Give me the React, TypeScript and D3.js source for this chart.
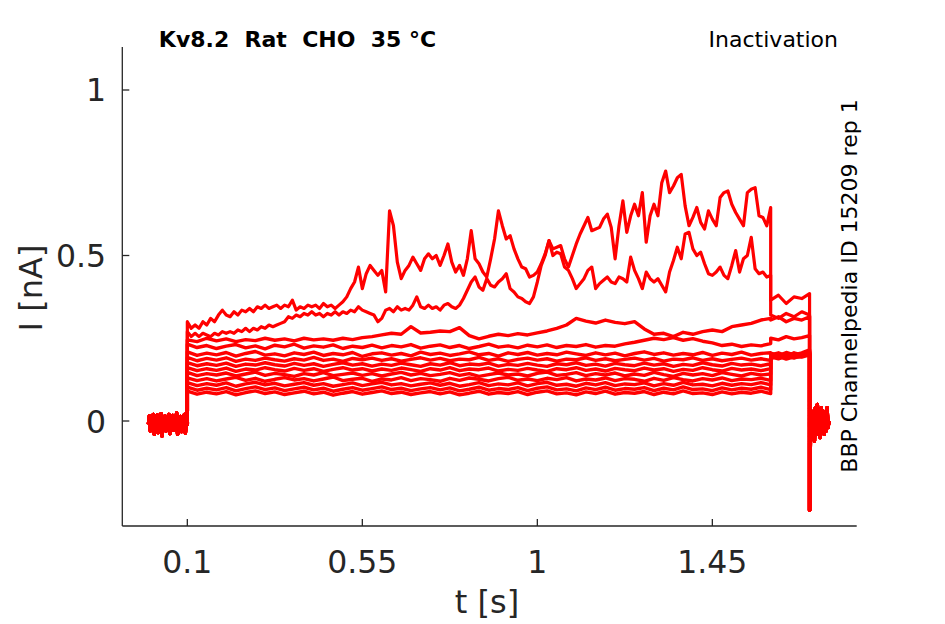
import React from 'react';
import * as d3 from 'd3';

// ---- protocol timing (s) ----
const tHold = 0;
const tPre = 0.1;
const tTest = 1.6;
const tTail = 1.7;
const holdStep = 0.0025;
const bigStep = 0.01;
const flatStep = 0.025;
const testStep = 0.02;
const tailStep = 0.0025;

// ---- axis ticks ----
const xTicks = [0.1, 0.55, 1, 1.45];
const xTickLabels = ['0.1', '0.55', '1', '1.45'];
const yTicks = [0, 0.5, 1];
const yTickLabels = ['0', '0.5', '1'];

// ---- holding and tail currents (nA), shared by all sweeps ----
const holdingCurrent = [-0.01, 0.015, -0.03, 0.005, -0.02, 0.02, -0.04, 0.0, -0.015, 0.018, -0.035, 0.01, -0.025, 0.022, -0.045, 0.005, -0.01, 0.015, -0.03, 0.012, -0.02, 0.02, -0.038, 0.0, -0.015, 0.017, -0.028, 0.01, -0.022, 0.024, -0.04, 0.006, -0.012, 0.014, -0.032, 0.01, -0.018, 0.02, -0.036, 0.004, -0.01];
const tailCurrent = [-0.27, -0.02, 0.03, -0.05, 0.02, -0.06, 0.04, -0.03, 0.05, -0.04, 0.01, -0.05, 0.04, -0.02, 0.03, -0.04, 0.02, -0.03, 0.04, -0.02, 0.0];

// ---- prepulse currents (nA) ----
const sweep1Pre = [0.30, 0.28, 0.29, 0.28, 0.30, 0.29, 0.31, 0.30, 0.32, 0.335, 0.32, 0.315, 0.33, 0.32, 0.335, 0.33, 0.34, 0.33, 0.345, 0.34, 0.35, 0.34, 0.345, 0.35, 0.34, 0.35, 0.345, 0.365, 0.335, 0.345, 0.34, 0.35, 0.345, 0.35, 0.34, 0.355, 0.345, 0.35, 0.34, 0.35, 0.36, 0.375, 0.40, 0.42, 0.465, 0.40, 0.445, 0.47, 0.455, 0.44, 0.455, 0.39, 0.635, 0.59, 0.48, 0.43, 0.455, 0.47, 0.495, 0.475, 0.455, 0.49, 0.505, 0.49, 0.50, 0.47, 0.50, 0.535, 0.48, 0.45, 0.47, 0.44, 0.49, 0.575, 0.49, 0.475, 0.45, 0.435, 0.49, 0.55, 0.635, 0.59, 0.55, 0.56, 0.52, 0.49, 0.465, 0.46, 0.435, 0.44, 0.45, 0.475, 0.505, 0.545, 0.52, 0.525, 0.53, 0.49, 0.465, 0.50, 0.535, 0.565, 0.59, 0.615, 0.575, 0.58, 0.585, 0.61, 0.625, 0.585, 0.49, 0.59, 0.665, 0.57, 0.62, 0.655, 0.62, 0.69, 0.54, 0.62, 0.655, 0.62, 0.72, 0.755, 0.69, 0.71, 0.735, 0.745, 0.65, 0.59, 0.615, 0.645, 0.60, 0.58, 0.635, 0.61, 0.59, 0.675, 0.69, 0.695, 0.655, 0.63, 0.61, 0.59, 0.69, 0.70, 0.705, 0.62, 0.615, 0.59, 0.645];
const sweep2Pre = [0.27, 0.255, 0.265, 0.255, 0.265, 0.26, 0.255, 0.265, 0.26, 0.27, 0.265, 0.27, 0.265, 0.275, 0.27, 0.28, 0.27, 0.28, 0.275, 0.285, 0.28, 0.29, 0.285, 0.29, 0.295, 0.30, 0.315, 0.31, 0.32, 0.315, 0.325, 0.32, 0.33, 0.32, 0.325, 0.315, 0.325, 0.32, 0.33, 0.32, 0.33, 0.325, 0.335, 0.33, 0.345, 0.335, 0.33, 0.325, 0.32, 0.30, 0.31, 0.335, 0.34, 0.33, 0.345, 0.335, 0.34, 0.335, 0.35, 0.375, 0.345, 0.34, 0.35, 0.34, 0.345, 0.335, 0.35, 0.355, 0.345, 0.34, 0.35, 0.37, 0.395, 0.42, 0.435, 0.405, 0.395, 0.43, 0.41, 0.405, 0.42, 0.43, 0.445, 0.40, 0.39, 0.375, 0.37, 0.36, 0.355, 0.375, 0.42, 0.47, 0.50, 0.545, 0.50, 0.51, 0.505, 0.465, 0.455, 0.43, 0.40, 0.415, 0.43, 0.455, 0.465, 0.40, 0.415, 0.425, 0.435, 0.42, 0.415, 0.435, 0.43, 0.42, 0.495, 0.455, 0.43, 0.40, 0.45, 0.43, 0.42, 0.43, 0.41, 0.39, 0.45, 0.485, 0.525, 0.49, 0.565, 0.57, 0.52, 0.50, 0.51, 0.475, 0.445, 0.44, 0.45, 0.465, 0.44, 0.43, 0.47, 0.515, 0.45, 0.49, 0.50, 0.555, 0.46, 0.445, 0.45, 0.435, 0.44];
const sweep3Pre = [0.245, 0.24, 0.25, 0.242, 0.248, 0.24, 0.246, 0.243, 0.25, 0.244, 0.248, 0.242, 0.25, 0.245, 0.248, 0.244, 0.25, 0.246, 0.252, 0.255, 0.26, 0.265, 0.262, 0.285, 0.266, 0.268, 0.272, 0.27, 0.282, 0.258, 0.248, 0.256, 0.262, 0.258, 0.264, 0.26, 0.266, 0.272, 0.28, 0.29, 0.31, 0.302, 0.296, 0.305, 0.298, 0.294, 0.30, 0.278, 0.262, 0.265, 0.255, 0.268, 0.262, 0.27, 0.275, 0.27, 0.285, 0.29, 0.295, 0.305, 0.31];
const sweep4Pre = [0.232, 0.222, 0.228, 0.219, 0.226, 0.231, 0.221, 0.227, 0.218, 0.229, 0.224, 0.232, 0.22, 0.227, 0.223, 0.23, 0.219, 0.226, 0.222, 0.229, 0.221, 0.228, 0.224, 0.231, 0.22, 0.226, 0.23, 0.222, 0.228, 0.219, 0.225, 0.232, 0.223, 0.227, 0.221, 0.229, 0.224, 0.23, 0.222, 0.228, 0.225, 0.231, 0.223, 0.228, 0.226, 0.233, 0.238, 0.244, 0.25, 0.246, 0.252, 0.244, 0.249, 0.241, 0.236, 0.228, 0.232, 0.225, 0.23, 0.227, 0.234];
const sweep5Pre = [0.209, 0.198, 0.205, 0.2, 0.207, 0.196, 0.204, 0.21, 0.199, 0.203, 0.197, 0.206, 0.201, 0.208, 0.198, 0.204, 0.2, 0.207, 0.195, 0.203, 0.206, 0.199, 0.204, 0.197, 0.208, 0.201, 0.205, 0.198, 0.203, 0.209, 0.2, 0.204, 0.196, 0.206, 0.201, 0.207, 0.199, 0.204, 0.2, 0.208, 0.203, 0.198, 0.206, 0.2, 0.205, 0.197, 0.204, 0.209, 0.201, 0.206, 0.199, 0.204, 0.2, 0.207, 0.198, 0.205, 0.201, 0.208, 0.199, 0.204, 0.206];
const sweep6Pre = [0.192, 0.182, 0.189, 0.184, 0.191, 0.18, 0.187, 0.183, 0.19, 0.185, 0.181, 0.188, 0.184, 0.192, 0.183, 0.187, 0.18, 0.189, 0.185, 0.19, 0.183, 0.188, 0.181, 0.186, 0.191, 0.184, 0.189, 0.182, 0.187, 0.185, 0.192, 0.183, 0.188, 0.18, 0.186, 0.19, 0.184, 0.188, 0.181, 0.187, 0.185, 0.191, 0.183, 0.188, 0.182, 0.186, 0.19, 0.184, 0.189, 0.181, 0.187, 0.185, 0.191, 0.183, 0.188, 0.182, 0.186, 0.19, 0.184, 0.188, 0.183];
const sweep7Pre = [0.176, 0.167, 0.173, 0.168, 0.175, 0.165, 0.172, 0.169, 0.176, 0.17, 0.166, 0.174, 0.168, 0.173, 0.165, 0.171, 0.176, 0.169, 0.173, 0.166, 0.172, 0.168, 0.175, 0.17, 0.165, 0.173, 0.169, 0.176, 0.167, 0.172, 0.17, 0.175, 0.166, 0.171, 0.168, 0.174, 0.169, 0.165, 0.173, 0.17, 0.176, 0.168, 0.172, 0.166, 0.174, 0.17, 0.167, 0.175, 0.169, 0.173, 0.165, 0.171, 0.168, 0.176, 0.17, 0.166, 0.174, 0.169, 0.172, 0.167, 0.173];
const sweep8Pre = [0.161, 0.152, 0.158, 0.153, 0.16, 0.15, 0.157, 0.154, 0.161, 0.155, 0.151, 0.159, 0.153, 0.158, 0.15, 0.156, 0.161, 0.154, 0.158, 0.151, 0.157, 0.153, 0.16, 0.155, 0.15, 0.158, 0.154, 0.161, 0.152, 0.157, 0.155, 0.16, 0.151, 0.156, 0.153, 0.159, 0.154, 0.15, 0.158, 0.155, 0.161, 0.153, 0.157, 0.151, 0.159, 0.155, 0.152, 0.16, 0.154, 0.158, 0.15, 0.156, 0.153, 0.161, 0.155, 0.151, 0.159, 0.154, 0.157, 0.152, 0.158];
const sweep9Pre = [0.147, 0.137, 0.143, 0.139, 0.145, 0.136, 0.142, 0.148, 0.138, 0.144, 0.14, 0.135, 0.143, 0.139, 0.146, 0.137, 0.141, 0.145, 0.138, 0.143, 0.136, 0.142, 0.147, 0.139, 0.144, 0.137, 0.141, 0.146, 0.138, 0.143, 0.135, 0.14, 0.145, 0.139, 0.142, 0.136, 0.144, 0.148, 0.138, 0.141, 0.146, 0.137, 0.143, 0.139, 0.145, 0.136, 0.142, 0.138, 0.147, 0.14, 0.135, 0.144, 0.139, 0.143, 0.137, 0.146, 0.141, 0.136, 0.144, 0.139, 0.142];
const sweep10Pre = [0.13, 0.122, 0.128, 0.121, 0.127, 0.132, 0.123, 0.129, 0.12, 0.126, 0.131, 0.124, 0.128, 0.121, 0.127, 0.133, 0.122, 0.126, 0.129, 0.12, 0.127, 0.124, 0.131, 0.122, 0.128, 0.125, 0.12, 0.129, 0.123, 0.13, 0.126, 0.121, 0.128, 0.132, 0.123, 0.127, 0.122, 0.129, 0.125, 0.131, 0.121, 0.127, 0.124, 0.13, 0.122, 0.128, 0.126, 0.12, 0.129, 0.123, 0.131, 0.125, 0.121, 0.128, 0.124, 0.13, 0.122, 0.127, 0.125, 0.129, 0.123];
const sweep11Pre = [0.116, 0.107, 0.113, 0.108, 0.115, 0.105, 0.112, 0.117, 0.109, 0.114, 0.106, 0.111, 0.116, 0.108, 0.113, 0.105, 0.11, 0.115, 0.107, 0.112, 0.117, 0.109, 0.113, 0.106, 0.111, 0.115, 0.108, 0.114, 0.105, 0.11, 0.116, 0.107, 0.112, 0.109, 0.115, 0.106, 0.113, 0.117, 0.108, 0.111, 0.105, 0.114, 0.109, 0.116, 0.107, 0.112, 0.11, 0.115, 0.106, 0.113, 0.108, 0.117, 0.109, 0.111, 0.106, 0.114, 0.108, 0.113, 0.11, 0.116, 0.109];
const sweep12Pre = [0.102, 0.093, 0.099, 0.094, 0.101, 0.091, 0.098, 0.103, 0.095, 0.1, 0.092, 0.097, 0.102, 0.094, 0.099, 0.09, 0.096, 0.101, 0.093, 0.098, 0.103, 0.095, 0.099, 0.092, 0.097, 0.101, 0.094, 0.1, 0.091, 0.096, 0.102, 0.093, 0.098, 0.095, 0.101, 0.092, 0.099, 0.103, 0.094, 0.097, 0.091, 0.1, 0.095, 0.102, 0.093, 0.098, 0.096, 0.101, 0.092, 0.099, 0.094, 0.103, 0.095, 0.097, 0.092, 0.1, 0.094, 0.099, 0.096, 0.102, 0.095];
const sweep13Pre = [0.09, 0.081, 0.087, 0.082, 0.089, 0.079, 0.086, 0.091, 0.083, 0.088, 0.08, 0.085, 0.09, 0.082, 0.087, 0.078, 0.084, 0.089, 0.081, 0.086, 0.091, 0.083, 0.087, 0.08, 0.085, 0.089, 0.082, 0.088, 0.079, 0.084, 0.09, 0.081, 0.086, 0.083, 0.089, 0.08, 0.087, 0.091, 0.082, 0.085, 0.079, 0.088, 0.083, 0.09, 0.081, 0.086, 0.084, 0.089, 0.08, 0.087, 0.082, 0.091, 0.083, 0.085, 0.08, 0.088, 0.082, 0.087, 0.084, 0.09, 0.083];

// ---- test-pulse currents (nA) ----
const sweep1Test = [0.365, 0.38, 0.355, 0.375, 0.37, 0.385];
const sweep2Test = [0.32, 0.31, 0.325, 0.315, 0.33, 0.32];
const sweep3Test = [0.305, 0.315, 0.3, 0.31, 0.305, 0.315];
const sweep4Test = [0.25, 0.245, 0.255, 0.248, 0.252, 0.258];
const sweep5Test = [0.205, 0.198, 0.207, 0.2, 0.206, 0.215];
const sweep6Test = [0.2, 0.206, 0.197, 0.204, 0.199, 0.212];
const sweep7Test = [0.197, 0.203, 0.195, 0.206, 0.2, 0.21];
const sweep8Test = [0.195, 0.2, 0.193, 0.202, 0.197, 0.208];
const sweep9Test = [0.192, 0.199, 0.19, 0.197, 0.202, 0.207];
const sweep10Test = [0.196, 0.19, 0.198, 0.193, 0.2, 0.205];
const sweep11Test = [0.19, 0.197, 0.191, 0.199, 0.195, 0.203];
const sweep12Test = [0.194, 0.188, 0.196, 0.19, 0.198, 0.204];
const sweep13Test = [0.189, 0.195, 0.187, 0.194, 0.193, 0.2];

const sweeps: [number[], number, number[]][] = [
  [sweep13Pre, flatStep, sweep13Test],
  [sweep12Pre, flatStep, sweep12Test],
  [sweep11Pre, flatStep, sweep11Test],
  [sweep10Pre, flatStep, sweep10Test],
  [sweep9Pre, flatStep, sweep9Test],
  [sweep8Pre, flatStep, sweep8Test],
  [sweep7Pre, flatStep, sweep7Test],
  [sweep6Pre, flatStep, sweep6Test],
  [sweep5Pre, flatStep, sweep5Test],
  [sweep4Pre, flatStep, sweep4Test],
  [sweep3Pre, flatStep, sweep3Test],
  [sweep2Pre, bigStep, sweep2Test],
  [sweep1Pre, bigStep, sweep1Test],
];

function buildSweep(pre: number[], preStep: number, test: number[]): [number, number][] {
  const pts: [number, number][] = [];
  holdingCurrent.forEach((v, i) => pts.push([tHold + i * holdStep, v]));
  pre.forEach((v, i) => pts.push([tPre + i * preStep, v]));
  test.forEach((v, i) => pts.push([tTest + i * testStep, v]));
  tailCurrent.forEach((v, i) => pts.push([tTail + i * tailStep, v]));
  return pts;
}

const W = 945;
const H = 624;
const axisColor = '#262626';
const font = 'DejaVu Sans, sans-serif';

export default function App() {
  const x = d3.scaleLinear().domain([-0.0672, 1.8212]).range([122.3, 856.7]);
  const y = d3.scaleLinear().domain([-0.3172, 1.1299]).range([526, 47]);
  const line = d3
    .line<[number, number]>()
    .x((d) => x(d[0]))
    .y((d) => y(d[1]));
  const [x0, x1] = x.range();
  const [y0, y1] = y.range();

  return (
    <svg
      width={W}
      height={H}
      viewBox={`0 0 ${W} ${H}`}
      style={{ position: 'absolute', left: 0, top: 0, background: '#fff' }}
    >
      <rect x={0} y={0} width={W} height={H} fill="#fff" />
      <g>
        {sweeps.map(([pre, step, test], i) => (
          <path
            key={i}
            d={line(buildSweep(pre, step, test)) || ''}
            fill="none"
            stroke="#ff0000"
            strokeWidth={step === bigStep ? 3.2 : 3.4}
            strokeLinejoin="round"
          />
        ))}
      </g>
      {/* axes */}
      <g stroke={axisColor} strokeWidth={1.3} fill="none">
        <line x1={x0} x2={x0} y1={y0} y2={y1} />
        <line x1={x0} x2={x1} y1={y0} y2={y0} />
        {xTicks.map((t) => (
          <line key={'xt' + t} x1={x(t)} x2={x(t)} y1={y0} y2={y0 - 7} />
        ))}
        {yTicks.map((t) => (
          <line key={'yt' + t} x1={x0} x2={x0 + 7} y1={y(t)} y2={y(t)} />
        ))}
      </g>
      <g fill={axisColor} fontFamily={font} fontSize={31.5}>
        {xTicks.map((t, i) => (
          <text key={'xl' + t} x={x(t)} y={572.5} textAnchor="middle">
            {xTickLabels[i]}
          </text>
        ))}
        {yTicks.map((t, i) => (
          <text key={'yl' + t} x={106} y={y(t) + 11.5} textAnchor="end">
            {yTickLabels[i]}
          </text>
        ))}
      </g>
      <text x={487} y={613} textAnchor="middle" fontFamily={font} fontSize={32} fill={axisColor}>
        t [s]
      </text>
      <text
        transform="translate(42,288) rotate(-90)"
        textAnchor="middle"
        fontFamily={font}
        fontSize={32}
        fill={axisColor}
      >
        I [nA]
      </text>
      <text
        x={297.5}
        y={47}
        textAnchor="middle"
        fontFamily={font}
        fontSize={22}
        fontWeight="bold"
        fill="#000"
        style={{ whiteSpace: 'pre' }}
      >
        {'Kv8.2  Rat  CHO  35 °C'}
      </text>
      <text x={838} y={47} textAnchor="end" fontFamily={font} fontSize={22} fill="#000">
        Inactivation
      </text>
      <text
        transform="translate(857,286) rotate(-90)"
        textAnchor="middle"
        fontFamily={font}
        fontSize={22}
        fill="#000"
      >
        BBP Channelpedia ID 15209 rep 1
      </text>
    </svg>
  );
}
